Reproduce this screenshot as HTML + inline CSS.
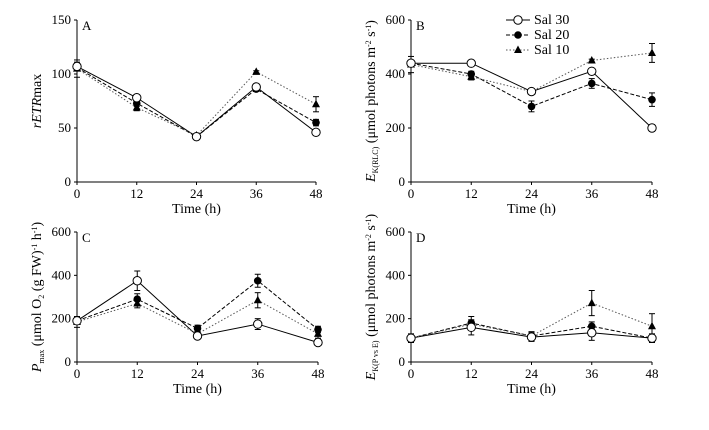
<!DOCTYPE html>
<html><head><meta charset="utf-8"><style>
body{margin:0;background:#fff;}
svg{display:block;}
svg text{font-family:"Liberation Serif","DejaVu Serif",serif;}
</style></head><body>
<svg id="c" width="709" height="430" font-family="Liberation Serif, serif"></svg>
<script>
const times=[0,12,24,36,48];
const xTicks=[0,12,24,36,48];
const seriesNames=["Sal 30","Sal 20","Sal 10"];
// Panel A
const aSal30=[107,78,42,88,46], aSal20=[106,73,42,86,55], aSal10=[105,69,43,102,72];
const aErr30=[4,2,1,2,1], aErr20=[3,3,1,2,3], aErr10=[8,3,1,1,7];
const aTicks=[0,50,100,150];
// Panel B
const bSal30=[440,440,335,410,200], bSal20=[440,400,280,365,305], bSal10=[435,390,335,450,478];
const bErr30=[8,5,8,8,12], bErr20=[8,10,20,18,25], bErr10=[30,12,8,5,35];
const bTicks=[0,200,400,600];
// Panel C
const cSal30=[190,375,120,175,90], cSal20=[190,290,155,375,150], cSal10=[185,270,130,285,130];
const cErr30=[10,45,12,25,8], cErr20=[8,25,15,30,15], cErr10=[25,20,10,35,20];
const cTicks=[0,200,400,600];
// Panel D
const dSal30=[110,160,115,135,110], dSal20=[110,180,120,165,110], dSal10=[110,175,120,272,165];
const dErr30=[20,35,20,35,20], dErr20=[10,30,20,20,10], dErr10=[10,15,15,58,58];
const dTicks=[0,200,400,600];

const svg=document.getElementById('c');
const NS='http://www.w3.org/2000/svg';
function el(t,a,p){const e=document.createElementNS(NS,t);for(const k in a)e.setAttribute(k,a[k]);(p||svg).appendChild(e);return e;}
const dashes=["none","4,2","1.5,2"];
function panel(cfg){
  const g=el('g',{});
  
  
  const X=v=>cfg.x0+(v-0)/48*(cfg.x1-cfg.x0);
  const Y=v=>cfg.y0-(v/cfg.ymax)*(cfg.y0-cfg.y1);
  el('line',{x1:cfg.x0,y1:cfg.y1,x2:cfg.x0,y2:cfg.y0,stroke:'#000','stroke-width':1},g);
  el('line',{x1:cfg.x0,y1:cfg.y0,x2:cfg.x1,y2:cfg.y0,stroke:'#000','stroke-width':1},g);
  cfg.ticks.forEach(t=>{
    el('line',{x1:cfg.x0,x2:cfg.x0-3,y1:Y(t),y2:Y(t),stroke:'#000'},g);
    const tx=el('text',{x:cfg.x0-6,y:Y(t)+4,'text-anchor':'end','font-size':13},g);tx.textContent=t;
    
    
  });
  xTicks.forEach(t=>{
    el('line',{x1:X(t),x2:X(t),y1:cfg.y0,y2:cfg.y0+3,stroke:'#000'},g);
    const tx=el('text',{x:X(t),y:cfg.y0+16,'text-anchor':'middle','font-size':13},g);tx.textContent=t;
    
    
  });
  const xt=el('text',{x:(cfg.x0+cfg.x1)/2,y:cfg.y0+31,'text-anchor':'middle','font-size':14},g);xt.textContent='Time (h)';
  
  
  const lt=el('text',{x:cfg.x0+5,y:cfg.y1+10,'font-size':13},g);lt.textContent=cfg.letter;
  
  
  const yt=el('text',{transform:`translate(${cfg.x0-36},${(cfg.y0+cfg.y1)/2}) rotate(-90)`,'text-anchor':'middle','font-size':14},g);
  yt.innerHTML=cfg.ylab;
  
  
  cfg.series.forEach((s,i)=>{
    const pts=times.map((t,j)=>X(t)+','+Y(s[j])).join(' ');
    const pl=el('polyline',{points:pts,fill:'none',stroke:i==2?'#555':'#000','stroke-width':1,'stroke-dasharray':dashes[i]},g);
    
    
    times.forEach((t,j)=>{
      const e=cfg.errs[i][j],x=X(t);
      el('line',{x1:x,x2:x,y1:Y(s[j]-e),y2:Y(s[j]+e),stroke:'#000'},g);
      el('line',{x1:x-3,x2:x+3,y1:Y(s[j]-e),y2:Y(s[j]-e),stroke:'#000'},g);
      el('line',{x1:x-3,x2:x+3,y1:Y(s[j]+e),y2:Y(s[j]+e),stroke:'#000'},g);
    });
  });
  [2,1,0].forEach(i=>{const s=cfg.series[i];times.forEach((t,j)=>{
    const x=X(t),y=Y(s[j]);let m;
    if(i==0)m=el('circle',{cx:x,cy:y,r:4.2,fill:'#fff',stroke:'#000'},g);
    else if(i==1)m=el('circle',{cx:x,cy:y,r:3.8,fill:'#000'},g);
    else m=el('polygon',{points:`${x},${y-4.5} ${x-4},${y+3} ${x+4},${y+3}`,fill:'#000'},g);
    
    
  });});
}
panel({letter:'A',x0:77,x1:316,y0:182,y1:20,ymax:150,ticks:aTicks,series:[aSal30,aSal20,aSal10],errs:[aErr30,aErr20,aErr10],
  ylab:'<tspan font-style="italic">rETR</tspan>max'});
panel({letter:'B',x0:411,x1:652,y0:182,y1:20,ymax:600,ticks:bTicks,series:[bSal30,bSal20,bSal10],errs:[bErr30,bErr20,bErr10],
  ylab:'<tspan font-style="italic">E</tspan><tspan font-size="8" dy="3">K(RLC)</tspan><tspan dy="-3"> (μmol photons m</tspan><tspan font-size="8" dy="-4">-2</tspan><tspan dy="4"> s</tspan><tspan font-size="8" dy="-4">-1</tspan><tspan dy="4">)</tspan>'});
panel({letter:'C',x0:77,x1:318,y0:362,y1:232,ymax:600,ticks:cTicks,series:[cSal30,cSal20,cSal10],errs:[cErr30,cErr20,cErr10],
  ylab:'<tspan font-style="italic">P</tspan><tspan font-size="8" dy="3">max</tspan><tspan dy="-3"> (μmol O</tspan><tspan font-size="8" dy="3">2</tspan><tspan dy="-3"> (g FW)</tspan><tspan font-size="8" dy="-4">-1</tspan><tspan dy="4"> h</tspan><tspan font-size="8" dy="-4">-1</tspan><tspan dy="4">)</tspan>'});
panel({letter:'D',x0:411,x1:652,y0:362,y1:232,ymax:600,ticks:dTicks,series:[dSal30,dSal20,dSal10],errs:[dErr30,dErr20,dErr10],
  ylab:'<tspan font-style="italic">E</tspan><tspan font-size="8" dy="3">K(P vs E)</tspan><tspan dy="-3"> (μmol photons m</tspan><tspan font-size="8" dy="-4">-2</tspan><tspan dy="4"> s</tspan><tspan font-size="8" dy="-4">-1</tspan><tspan dy="4">)</tspan>'});
// legend
const lg=el('g',{});


seriesNames.forEach((n,i)=>{
  const y=20+i*15;
  el('line',{x1:506,x2:530,y1:y,y2:y,stroke:i==2?'#555':'#000','stroke-dasharray':dashes[i]},lg);
  if(i==0)el('circle',{cx:518,cy:y,r:4.2,fill:'#fff',stroke:'#000'},lg);
  else if(i==1)el('circle',{cx:518,cy:y,r:3.8,fill:'#000'},lg);
  else el('polygon',{points:`518,${y-4.5} 514,${y+3} 522,${y+3}`,fill:'#000'},lg);
  const t=el('text',{x:534,y:y+4,'font-size':14},lg);t.textContent=n;
  
  
});
</script>
</body></html>
